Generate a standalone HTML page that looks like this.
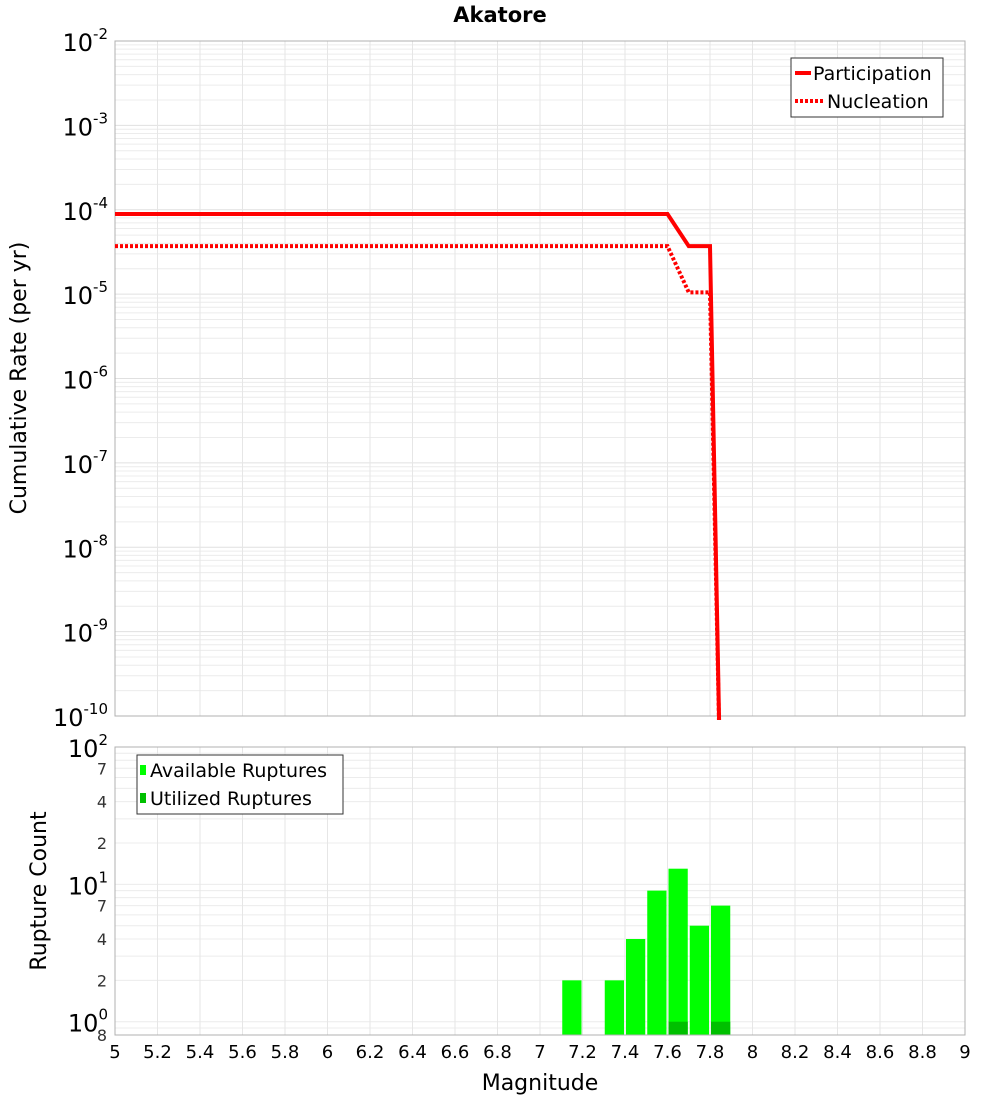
<!DOCTYPE html>
<html><head><meta charset="utf-8"><style>
body{margin:0;background:#fff;width:1000px;height:1100px;overflow:hidden}
svg text{font-family:"DejaVu Sans","Liberation Sans",sans-serif}
</style></head><body>
<svg id="c" width="1000" height="1100"></svg>
<script>
const partMag=[5.0,7.6,7.7,7.8,7.85];
const partRate=[8.9e-5,8.9e-5,3.7e-5,3.7e-5,1e-11];
const nuclMag=[5.0,7.6,7.7,7.8,7.85];
const nuclRate=[3.7e-5,3.7e-5,1.05e-5,1.05e-5,1e-11];
const binMag=[7.1,7.3,7.4,7.5,7.6,7.7,7.8];
const availCount=[2,2,4,9,13,5,7];
const usedCount=[0,0,0,0,1,0,1];
const xTicks=[5,5.2,5.4,5.6,5.8,6,6.2,6.4,6.6,6.8,7,7.2,7.4,7.6,7.8,8,8.2,8.4,8.6,8.8,9];
const topDecades=[-2,-3,-4,-5,-6,-7,-8,-9,-10];

const S=document.getElementById('c');const NS='http://www.w3.org/2000/svg';
function mk(t,a,p){const e=document.createElementNS(NS,t);for(const k in a)e.setAttribute(k,a[k]);(p||S).appendChild(e);return e;}
const X0=115,X1=965;
const x=m=>X0+(m-5)/4*(X1-X0);
const T0=41,T1=716;
const yT=v=>T0+(-2-Math.log10(v))/8*(T1-T0);
const B0=747,B1=1035,bMin=Math.log10(0.8);
const yB=v=>B0+(2-Math.log10(v))/(2-bMin)*(B1-B0);

// top panel
let g=mk('g',{});
for(let d=-10;d<-2;d++)for(let k=1;k<10;k++){const y=yT(k*Math.pow(10,d));const l=mk('line',{x1:X0,x2:X1,y1:y,y2:y,stroke:k==1?'#e0e0e0':'#ececec','stroke-width':1},g);}
xTicks.forEach(t=>{const l=mk('line',{x1:x(t),x2:x(t),y1:T0,y2:T1,stroke:'#e6e6e6'},g);});
let r=mk('rect',{x:X0,y:T0,width:X1-X0,height:T1-T0,fill:'none',stroke:'#b0b0b0'},g);
topDecades.forEach(d=>{const y=yT(Math.pow(10,d));const t=mk('text',{x:108,y:y+10,'text-anchor':'end','font-size':24},g);t.innerHTML='10<tspan dy="-12" font-size="15">'+d+'</tspan>';});
const cp=mk('clipPath',{id:'cl'});mk('rect',{x:X0,y:T0,width:X1-X0,height:T1-T0+4},cp);
function pl(ms,vs,dash,name){const p=mk('polyline',{points:ms.map((m,i)=>x(m)+','+yT(vs[i])).join(' '),fill:'none',stroke:'#ff0000','stroke-width':4,'stroke-dasharray':dash,'clip-path':'url(#cl)'},g);}
pl(nuclMag,nuclRate,'3,2','nucleation-line');
pl(partMag,partRate,'none','participation-line');
let t=mk('text',{x:500,y:22,'text-anchor':'middle','font-size':21,'font-weight':'bold'});t.textContent='Akatore';
t=mk('text',{x:0,y:0,'text-anchor':'middle','font-size':22,transform:'translate(26,378) rotate(-90)'});t.textContent='Cumulative Rate (per yr)';
let lg=mk('g',{});
mk('rect',{x:791,y:58,width:152,height:59,fill:'#fff',stroke:'#333'},lg);
mk('line',{x1:795,x2:811,y1:73,y2:73,stroke:'#f00','stroke-width':4},lg);
mk('line',{x1:795,x2:823,y1:101,y2:101,stroke:'#f00','stroke-width':4,'stroke-dasharray':'3,2'},lg);
t=mk('text',{x:813,y:80,'font-size':19},lg);t.textContent='Participation';
t=mk('text',{x:827,y:108,'font-size':19},lg);t.textContent='Nucleation';

// bottom panel
let h=mk('g',{});
[0.8,0.9,1,2,3,4,5,6,7,8,9,10,20,30,40,50,60,70,80,90].forEach(v=>{const y=yB(v);const l=mk('line',{x1:X0,x2:X1,y1:y,y2:y,stroke:'#ececec'},h);});
xTicks.forEach(tk=>{const l=mk('line',{x1:x(tk),x2:x(tk),y1:B0,y2:B1,stroke:'#e6e6e6'},h);
 const tt=mk('text',{x:x(tk),y:1058,'text-anchor':'middle','font-size':18},h);tt.textContent=String(tk);});
binMag.forEach((m,i)=>{const a=mk('rect',{x:x(m)+1,y:yB(availCount[i]),width:x(m+0.1)-x(m)-2,height:B1-yB(availCount[i]),fill:'#00ff00'},h);
 if(usedCount[i]>0){const u=mk('rect',{x:x(m)+1,y:yB(usedCount[i]),width:x(m+0.1)-x(m)-2,height:B1-yB(usedCount[i]),fill:'#00c000'},h);}});
r=mk('rect',{x:X0,y:B0,width:X1-X0,height:B1-B0,fill:'none',stroke:'#b0b0b0'},h);
[[100,'2'],[10,'1'],[1,'0']].forEach(([v,e])=>{const tt=mk('text',{x:108,y:yB(v)+10,'text-anchor':'end','font-size':24},h);tt.innerHTML='10<tspan dy="-12" font-size="15">'+e+'</tspan>';});
[[70,'7'],[40,'4'],[20,'2'],[7,'7'],[4,'4'],[2,'2'],[0.8,'8']].forEach(([v,s])=>{const tt=mk('text',{x:107,y:yB(v)+6,'text-anchor':'end','font-size':16,fill:'#333'},h);tt.textContent=s;});
t=mk('text',{x:0,y:0,'text-anchor':'middle','font-size':22,transform:'translate(46,891) rotate(-90)'});t.textContent='Rupture Count';
t=mk('text',{x:540,y:1090,'text-anchor':'middle','font-size':22});t.textContent='Magnitude';
lg=mk('g',{});
mk('rect',{x:137,y:755,width:206,height:59,fill:'#fff',stroke:'#333'},lg);
mk('rect',{x:140,y:765,width:6,height:10,fill:'#00ff00'},lg);
mk('rect',{x:140,y:793,width:6,height:10,fill:'#00c000'},lg);
t=mk('text',{x:150,y:777,'font-size':19},lg);t.textContent='Available Ruptures';
t=mk('text',{x:150,y:805,'font-size':19},lg);t.textContent='Utilized Ruptures';
</script>
</body></html>
